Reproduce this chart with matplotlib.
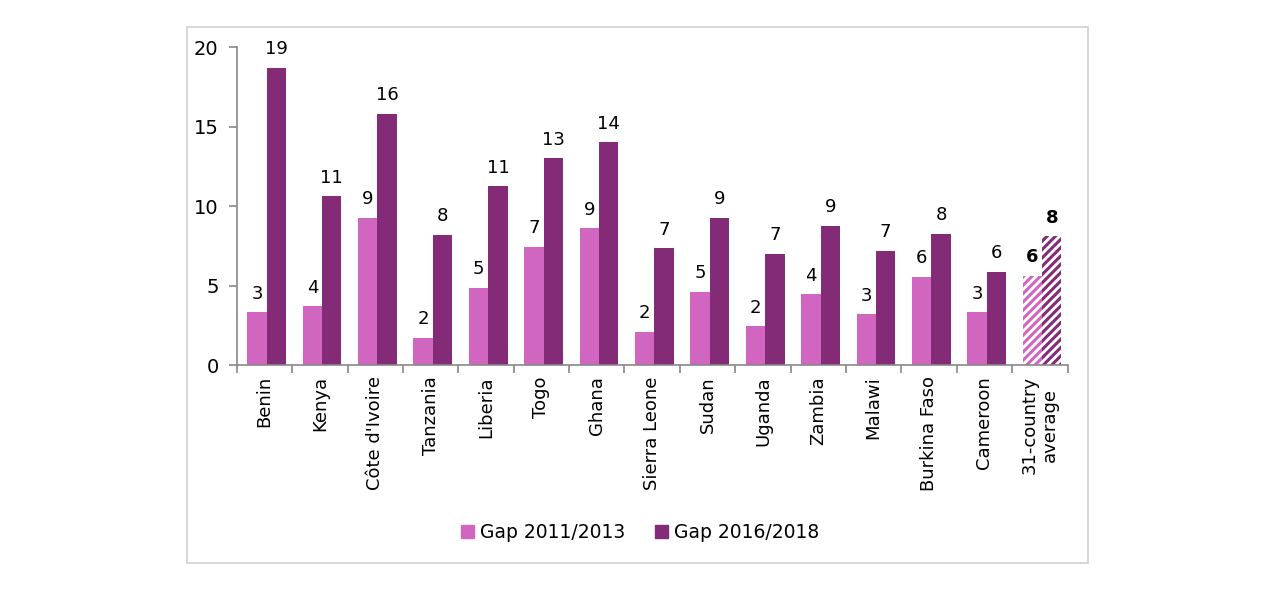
import matplotlib
matplotlib.use("Agg")
import matplotlib.pyplot as plt
import matplotlib.patches as mpatches
import numpy as np

categories = ["Benin", "Kenya", "Côte d'Ivoire", "Tanzania", "Liberia", "Togo", "Ghana",
              "Sierra Leone", "Sudan", "Uganda", "Zambia", "Malawi", "Burkina Faso",
              "Cameroon", "31-country\naverage"]
gap_2011 = [3.33, 3.7, 9.25, 1.7, 4.85, 7.45, 8.6, 2.1, 4.6, 2.45, 4.45, 3.2, 5.55, 3.33, 5.6]
gap_2016 = [18.7, 10.6, 15.8, 8.2, 11.25, 13.0, 14.0, 7.35, 9.25, 7.0, 8.75, 7.2, 8.25, 5.85, 8.1]
labels_2011 = ["3", "4", "9", "2", "5", "7", "9", "2", "5", "2", "4", "3", "6", "3", "6"]
labels_2016 = ["19", "11", "16", "8", "11", "13", "14", "7", "9", "7", "9", "7", "8", "6", "8"]

pink = "#D066C0"
purple = "#832B77"

plt.rcParams['font.family'] = ['DejaVu Sans']
plt.rcParams['hatch.linewidth'] = 2.2

fig = plt.figure(figsize=(12.8, 5.92), dpi=100)
ax = fig.add_axes([0.185, 0.3834, 0.649, 0.5372])

x = np.arange(len(categories))
w = 0.35
off = 0.04
n = len(categories)
for i in range(n):
    avg = (i == n - 1)
    if avg:
        ax.bar(x[i] + off - w / 2, gap_2011[i], w, facecolor="white", edgecolor=pink, hatch="////", linewidth=0)
        ax.bar(x[i] + off + w / 2, gap_2016[i], w, facecolor="white", edgecolor=purple, hatch="////", linewidth=0)
    else:
        ax.bar(x[i] + off - w / 2, gap_2011[i], w, color=pink, linewidth=0)
        ax.bar(x[i] + off + w / 2, gap_2016[i], w, color=purple, linewidth=0)
    fw = "bold" if avg else "normal"
    ax.text(x[i] + off - w / 2, gap_2011[i] + 0.6, labels_2011[i], ha="center", va="bottom", fontsize=13, fontweight=fw)
    ax.text(x[i] + off + w / 2, gap_2016[i] + 0.6, labels_2016[i], ha="center", va="bottom", fontsize=13, fontweight=fw)

ax.set_xlim(-0.5, n - 0.5)
ax.set_ylim(0, 20)
ax.set_yticks([0, 5, 10, 15, 20])
ax.tick_params(axis="y", labelsize=14, length=6, color="#888888", width=1.2, pad=7)
ax.set_xticks(x)
ax.set_xticklabels(categories, rotation=90, fontsize=13)
ax.tick_params(axis="x", length=0, pad=8)
ax.set_xticks(np.arange(-0.5, n, 1.0), minor=True)
ax.tick_params(axis="x", which="minor", length=6, color="#888888", width=1.2)
for s in ["top", "right"]:
    ax.spines[s].set_visible(False)
for s in ["left", "bottom"]:
    ax.spines[s].set_color("#888888")
    ax.spines[s].set_linewidth(1.2)

handles = [mpatches.Patch(color=pink, label="Gap 2011/2013"),
           mpatches.Patch(color=purple, label="Gap 2016/2018")]
fig.legend(handles=handles, loc="center", bbox_to_anchor=(0.5, 0.101), ncol=2, frameon=False,
           fontsize=13.5, handlelength=0.7, handleheight=0.7, handletextpad=0.3, columnspacing=1.6)

border = mpatches.Rectangle((187 / 1280, 1 - 563 / 592), (1088 - 187) / 1280, (563 - 27) / 592,
                            transform=fig.transFigure, fill=False, edgecolor="#D0D0D0", linewidth=1.2)
fig.patches.append(border)

fig.savefig("out.png", dpi=100)
